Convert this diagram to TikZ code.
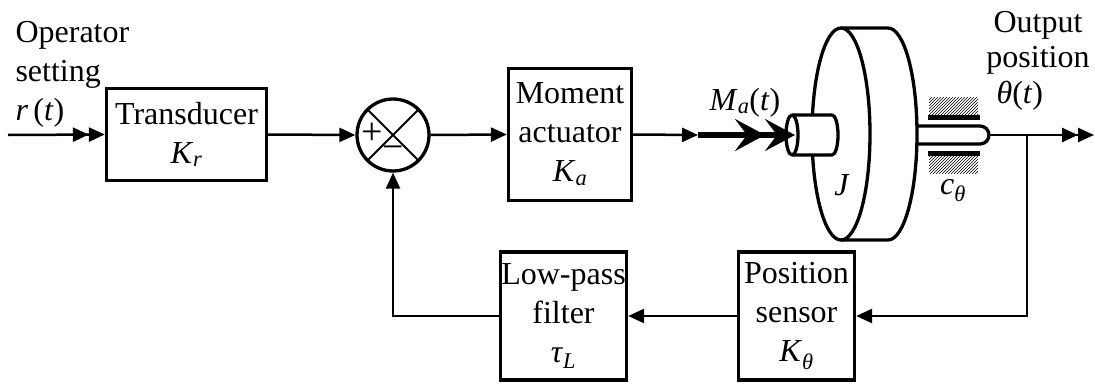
\documentclass[tikz,border=0pt]{standalone}
\usepackage{fontspec}
\setmainfont{Liberation Serif}
\usetikzlibrary{arrows.meta,patterns}

\newcommand{\iv}[1]{\textit{#1}}
\newcommand{\isub}[2]{\textit{#1}\textsubscript{\textit{#2}}}

\begin{document}
\begin{tikzpicture}[x=1pt, y=1pt, every node/.style={font=\fontsize{32}{39}\selectfont},
  b/.style={draw,line width=3.3pt,inner sep=0pt,align=center},
  a/.style={-{Triangle[length=16pt,width=14pt]},line width=2.5pt},
  aa/.style={-{Triangle[length=16pt,width=14pt] Triangle[length=16pt,width=14pt]},line width=2.5pt},
  m/.style={-{Stealth[length=30pt,width=32pt,inset=12pt] Stealth[length=30pt,width=32pt,inset=12pt]},line width=6pt},
  part/.style={line width=3.3pt,line join=round},
  pad/.style={pattern=north east lines,pattern color=black}]
  \useasboundingbox (0,0) rectangle (1095,384);

  % blocks
  \node[b,minimum width=160pt,minimum height=92pt] (trans) at (186.5,249.5) {Transducer\\\isub{K}{r}};
  \node[draw,circle,line width=3.3pt,minimum size=72pt,inner sep=0pt] (sum) at (393,249) {};
  \node[b,minimum width=123pt,minimum height=132pt] (act) at (570,249.5) {Moment\\actuator\\\isub{K}{a}};
  \node[b,minimum width=126pt,minimum height=128pt] (filt) at (563.5,68) {Low-pass\\filter\\\isub{τ}{L}};
  \node[b,minimum width=116pt,minimum height=128pt] (sens) at (796.5,68) {Position\\sensor\\\isub{K}{θ}};

  % summing junction
  \draw[line width=2pt] (sum.north east) -- (sum.south west) (sum.north west) -- (sum.south east);
  \node[font=\fontsize{38}{40}\selectfont] (plus) at (372,250) {+};
  \node[font=\fontsize{38}{40}\selectfont] (minus) at (393,231) {−};

  % flywheel
  \draw[part,fill=white] (841,356) -- (888,356) arc[start angle=90,end angle=-90,x radius=29,y radius=106] -- (841,144);
  \draw[part,fill=white] (841,250) ellipse[x radius=29,y radius=106];
  \node (jlab) at (842,199) {\iv{J}};

  % input hub
  \draw[part,fill=white] (792,269) -- (832,269) arc[start angle=90,end angle=-90,x radius=6,y radius=20] -- (792,229);
  \draw[part,fill=white] (792,249) ellipse[x radius=6,y radius=20];

  % output shaft and bearing
  \draw[part] (917,258) -- (980,258) arc[start angle=90,end angle=-90,radius=9] -- (917,240);
  \fill[pad] (929,267) rectangle (978,287);
  \fill[pad] (929,211) rectangle (978,231);
  \draw[line width=5pt] (928,267) -- (980,267);
  \draw[line width=5pt] (928,231) -- (980,231);
  \node (clab) at (953,193) {\isub{c}{θ}};

  % labels
  \node[align=left,anchor=base west] (op) at (12,264) {Operator\\setting\\\iv{r}\,(\iv{t})};
  \node[anchor=base] (mlab) at (745,274) {\isub{M}{a}(\iv{t})};
  \node[align=center,anchor=base,font=\fontsize{32}{35}\selectfont] (olab) at (1038,317) {Output\\position};
  \node[anchor=base west] (thlab) at (993,281) {\iv{θ}(\iv{t})};

  % signal lines
  \coordinate (in) at (8,249);
  \coordinate (mt) at (698,249);
  \coordinate (hub) at (795,249);
  \coordinate (tip) at (989,249);
  \coordinate (br) at (1027,249);
  \coordinate (out) at (1094,249);
  \draw[aa] (in) -- (trans.west);
  \draw[a] (trans.east) -- (sum.west);
  \draw[a] (sum.east) -- (act.west);
  \draw[a] (act.east) -- (mt);
  \draw[m] (mt) -- (hub);
  \draw[aa] (tip) -- (out);
  \draw[a] (br) |- (sens.east);
  \draw[a] (sens.west) -- (filt.east);
  \draw[a] (filt.west) -| (sum.south);
\end{tikzpicture}
\end{document}
